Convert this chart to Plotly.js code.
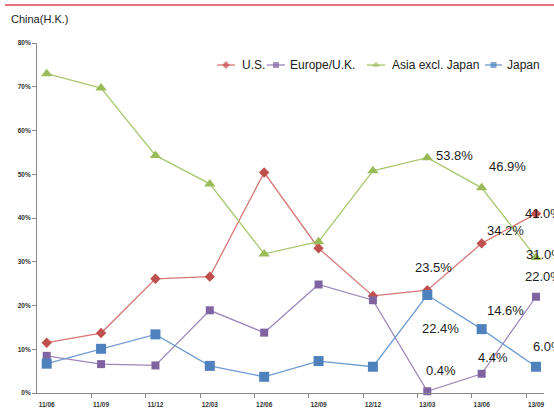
<!DOCTYPE html>
<html>
<head>
<meta charset="utf-8">
<script src="https://cdn.plot.ly/plotly-3.0.1.min.js"></script>
<style>
  html, body { margin: 0; padding: 0; background: #fff; }
  #chart { width: 554px; height: 410px; }
</style>
</head>
<body>
<div id="chart"></div>
<script>
// Quarter-end periods
const categories = ['11/06', '11/09', '11/12', '12/03', '12/06', '12/09', '12/12', '13/03', '13/06', '13/09'];

// Share by region, in percent
const us     = [11.5, 13.7, 26.1, 26.6, 50.4, 33.1, 22.2, 23.5, 34.2, 41.0];
const europe = [8.5, 6.6, 6.3, 18.9, 13.8, 24.8, 21.2, 0.4, 4.4, 22.0];
const asia   = [73.0, 69.7, 54.3, 47.8, 31.8, 34.6, 50.8, 53.8, 46.9, 31.0];
const japan  = [6.7, 10.1, 13.4, 6.2, 3.7, 7.3, 6.0, 22.4, 14.6, 6.0];

const seriesNames = ['U.S.', 'Europe/U.K.', 'Asia excl. Japan', 'Japan'];
const yTicks = [0, 10, 20, 30, 40, 50, 60, 70, 80];
const yTickText = yTicks.map(v => v + '%');
const chartTitle = 'China(H.K.)';

// Only the last three periods carry value labels
const labelStart = 7;

// ---- styling ----
const W = 554, H = 410;
const M = { l: 37, r: 10, t: 43, b: 17 };
const PW = W - M.l - M.r, PH = H - M.t - M.b;
const FONT = 'Liberation Sans, Arial, sans-serif';

const styles = [
  { line: '#d87676', marker: '#c0504d', symbol: 'diamond', size: 8, legSize: 6 },
  { line: '#9d87bb', marker: '#8064a2', symbol: 'square', size: 8, legSize: 6 },
  { line: '#a9c86f', marker: '#9bbb59', symbol: 'triangle-up', size: 10, legSize: 7 },
  { line: '#6d9bd2', marker: '#4f81bd', symbol: 'square', size: 10, legSize: 6 }
];

// pixel offsets of each value label from its point (13/03, 13/06, 13/09)
const labelShifts = [
  [[6, 23], [24, 13], [7, 0]],
  [[14, 21], [11, 16], [7, 20]],
  [[27, 2], [26, 21], [8, 3]],
  [[13, -33], [24, 19], [12, 20]]
];

// legend swatch placement in pixels: line start, line end, text start
const legendPos = [[217, 235, 240], [267, 285, 288], [367, 385, 390], [485, 502, 505]];
const legendY = 65;

const allSeries = [us, europe, asia, japan];
const xIdx = categories.map((_, i) => i);

// x scale: first period at 46.7 px, 54.37 px per period
const pxPerCat = 54.37;
const xStart = -(46.7 - M.l) / pxPerCat;
const xEnd = xStart + PW / pxPerCat;
const tickOffset = 0.18;

const pxToPaperY = p => (H - M.b - p) / PH;
const pxToPaperX = p => (p - M.l) / PW;

const traces = [];
allSeries.forEach((vals, s) => {
  const st = styles[s];
  traces.push({
    type: 'scatter', mode: 'lines+markers', name: seriesNames[s],
    x: xIdx, y: vals, xaxis: 'x', yaxis: 'y',
    line: { color: st.line, width: 1.3 },
    marker: { color: st.marker, symbol: st.symbol, size: st.size, line: { width: 0 } },
    showlegend: false, hoverinfo: 'skip', cliponaxis: false
  });
});

// legend drawn on a pixel-space overlay axis
allSeries.forEach((vals, s) => {
  const st = styles[s];
  const [a, b] = legendPos[s];
  traces.push({
    type: 'scatter', mode: 'lines+markers',
    x: [a, (a + b) / 2, b], y: [legendY, legendY, legendY],
    xaxis: 'x3', yaxis: 'y3',
    line: { color: st.line, width: 1.3 },
    marker: { color: st.marker, symbol: st.symbol, size: [0, st.legSize, 0], line: { width: 0 } },
    showlegend: false, hoverinfo: 'skip', cliponaxis: false
  });
});

const annotations = [];
allSeries.forEach((vals, s) => {
  for (let i = labelStart; i < vals.length; i++) {
    const sh = labelShifts[s][i - labelStart];
    annotations.push({
      xref: 'x', yref: 'y', x: i, y: vals[i],
      text: vals[i].toFixed(1) + '%', showarrow: false,
      xanchor: 'center', yanchor: 'middle',
      xshift: sh[0], yshift: sh[1],
      font: { family: FONT, size: 13, color: '#1e1e1e' }
    });
  }
});
seriesNames.forEach((n, s) => {
  annotations.push({
    xref: 'x3', yref: 'y3', x: legendPos[s][2], y: legendY,
    text: n, showarrow: false, xanchor: 'left', yanchor: 'middle',
    font: { family: FONT, size: 12, color: '#222' }
  });
});
annotations.push({
  xref: 'paper', yref: 'paper', x: pxToPaperX(9), y: pxToPaperY(19), text: chartTitle, showarrow: false,
  xanchor: 'left', yanchor: 'middle',
  font: { family: FONT, size: 11, color: '#222' }
});

const layout = {
  width: W, height: H,
  margin: M,
  paper_bgcolor: '#fff', plot_bgcolor: '#fff',
  showlegend: false,
  xaxis: {
    range: [xStart, xEnd], tickvals: xIdx, ticktext: categories,
    showgrid: false, zeroline: false, showline: true, linecolor: '#8a8a8a', linewidth: 1,
    ticks: 'outside', ticklen: 5, tickcolor: 'rgba(0,0,0,0)',
    tickfont: { family: FONT, size: 6.5, color: '#333', weight: 'bold' },
    automargin: false, fixedrange: true
  },
  xaxis2: {
    overlaying: 'x', anchor: 'y', range: [xStart, xEnd],
    tickvals: xIdx.map(i => i - tickOffset), showticklabels: false,
    ticks: 'outside', ticklen: 4, tickcolor: '#8a8a8a', tickwidth: 1,
    showgrid: false, zeroline: false, showline: false, automargin: false, fixedrange: true
  },
  yaxis: {
    range: [0, 80], tickvals: yTicks, ticktext: yTickText,
    showgrid: false, zeroline: false, showline: true, linecolor: '#8a8a8a', linewidth: 1,
    ticks: 'outside', ticklen: 4, tickcolor: '#8a8a8a',
    tickfont: { family: FONT, size: 6.5, color: '#333', weight: 'bold' },
    automargin: false, fixedrange: true
  },
  xaxis3: { domain: [0, 1], range: [M.l, W - M.r], visible: false, fixedrange: true, anchor: 'y3', overlaying: 'x' },
  yaxis3: { domain: [0, 1], range: [H - M.b, M.t], visible: false, fixedrange: true, anchor: 'x3', overlaying: 'y' },
  shapes: [{
    type: 'line', xref: 'paper', yref: 'paper',
    x0: pxToPaperX(5), x1: pxToPaperX(W), y0: pxToPaperY(5), y1: pxToPaperY(5),
    line: { color: '#e8737c', width: 2 }
  }],
  annotations: annotations
};

// an empty trace so the tick-mark axis is rendered
traces.push({ type: 'scatter', x: [], y: [], xaxis: 'x2', yaxis: 'y', showlegend: false, hoverinfo: 'skip' });

Plotly.newPlot('chart', traces, layout, { staticPlot: true, displayModeBar: false });
</script>
</body>
</html>
